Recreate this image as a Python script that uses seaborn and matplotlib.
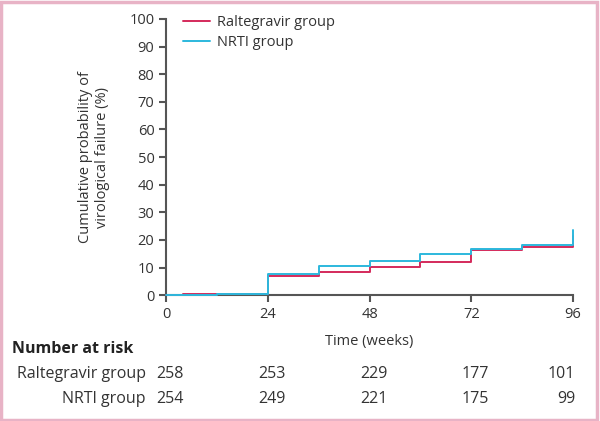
import pandas as pd
import matplotlib.pyplot as plt
import seaborn as sns
from matplotlib.patches import Rectangle

# Kaplan-Meier style step data (weeks, cumulative %)
weeks_ral = [0, 4, 24, 36, 48, 60, 72, 84, 96, 96]
prob_ral = [0, 0.4, 6.9, 8.5, 10.2, 12.1, 16.2, 17.6, 17.6, 21.5]
weeks_nrti = [0, 12, 24, 36, 48, 60, 72, 84, 96, 96]
prob_nrti = [0, 0.4, 7.5, 10.7, 12.2, 15.0, 16.6, 18.1, 18.1, 23.5]

risk_weeks = [0, 24, 48, 72, 96]
risk_ral = [258, 253, 229, 177, 101]
risk_nrti = [254, 249, 221, 175, 99]

groups = ['Raltegravir group', 'NRTI group']
colors = ['#d42a5b', '#2cb8dd']

df = pd.concat([
    pd.DataFrame({'Week': weeks_ral, 'Prob': prob_ral, 'Group': groups[0]}),
    pd.DataFrame({'Week': weeks_nrti, 'Prob': prob_nrti, 'Group': groups[1]}),
])

sns.set_style('ticks')
plt.rcParams['font.family'] = ['Open Sans', 'DejaVu Sans']
grey = '#555555'
txt = '#333333'

fig = plt.figure(figsize=(6, 4.21), dpi=100)
ax = fig.add_axes([0.277, 0.299, 0.678, 0.656])

sns.lineplot(data=df, x='Week', y='Prob', hue='Group', palette=colors,
             estimator=None, sort=False, drawstyle='steps-post',
             linewidth=1.4, ax=ax, clip_on=False, zorder=3)

ax.set_xlim(0, 96)
ax.set_ylim(0, 100)
ax.set_xticks(risk_weeks)
ax.set_yticks(range(0, 101, 10))
sns.despine(ax=ax)
for s in ['left', 'bottom']:
    ax.spines[s].set_color(grey)
    ax.spines[s].set_linewidth(1.5)
ax.tick_params(colors=grey, labelcolor=txt, labelsize=10.5, width=1.5, length=5)
ax.set_xlabel('Time (weeks)', fontsize=10.5, color=txt, labelpad=9)
ax.set_ylabel('Cumulative probability of\nvirological failure (%)', fontsize=10.5,
              color=txt, labelpad=14)

leg = ax.legend(loc='upper left', bbox_to_anchor=(0.01, 1.06), frameon=False,
                fontsize=10.5, handlelength=1.8, handletextpad=0.5,
                labelspacing=0.3)
for t in leg.get_texts():
    t.set_color(txt)

# number at risk table
fs = 11.5
fig.text(0.02, 1 - 349 / 421, 'Number at risk', fontsize=fs, fontweight='bold',
         color='#222222', va='center')
for row, (name, vals) in enumerate([(groups[0], risk_ral), (groups[1], risk_nrti)]):
    y = 1 - (374 + 25 * row) / 421
    fig.text(0.243, y, name, fontsize=fs, color=txt, ha='right', va='center')
    for w, v in zip(risk_weeks, vals):
        if w == 96:
            fig.text(575 / 600, y, str(v), fontsize=fs, color=txt,
                     ha='right', va='center')
        else:
            xf = (166 + (573 - 166) * w / 96) / 600 + 0.007
            fig.text(xf, y, str(v), fontsize=fs, color=txt,
                     ha='center', va='center')

fig.patches.append(Rectangle((0.002, 0.003), 0.993, 0.992, transform=fig.transFigure,
                             fill=False, edgecolor='#e8b3c6', linewidth=2.5))

fig.savefig('out.png', dpi=100)
